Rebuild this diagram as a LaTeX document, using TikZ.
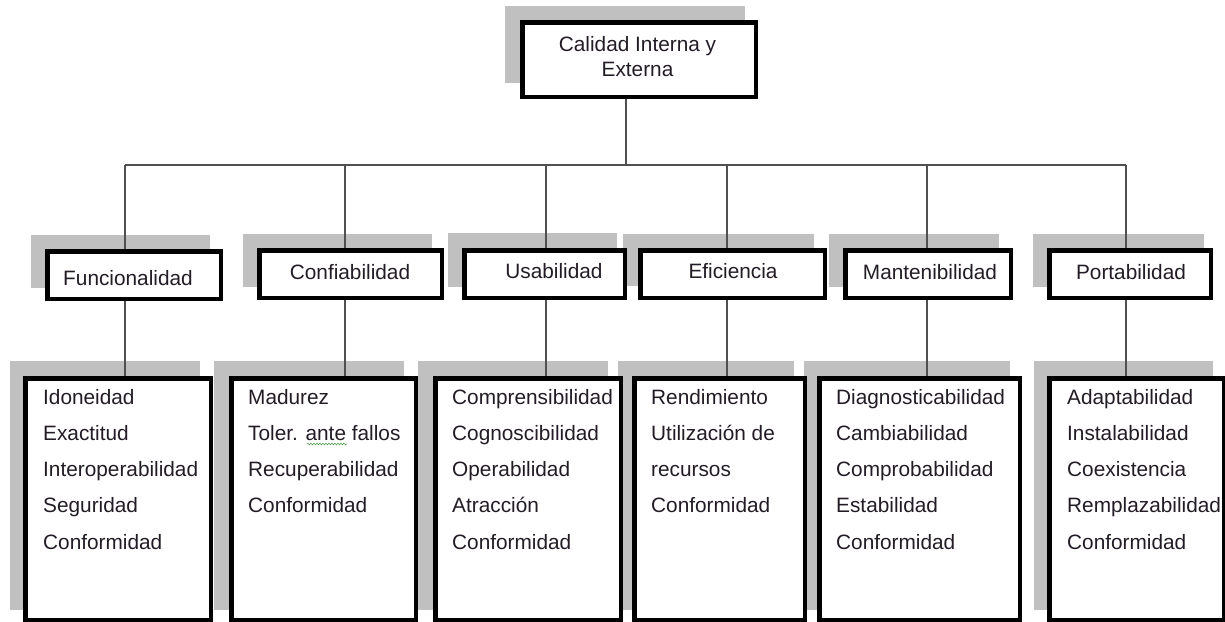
\documentclass[tikz,border=0pt]{standalone}
\usepackage{fontspec}
\setmainfont{Liberation Sans}
\usetikzlibrary{decorations.pathmorphing}
\definecolor{shadowgray}{RGB}{192,192,192}
\definecolor{linegray}{RGB}{80,80,80}
\definecolor{textcol}{RGB}{35,28,38}
\definecolor{spellgreen}{RGB}{90,160,90}
\begin{document}
\begin{tikzpicture}[x=1pt,y=-1pt,
  shadowfill/.style={fill=shadowgray, draw=none},
  boxstyle/.style={draw=black, fill=white, line width=4.5pt, inner sep=0pt, rectangle},
  midbox/.style={boxstyle, minimum height=47.5pt},
  lowbox/.style={boxstyle, minimum height=241.5pt},
  conn/.style={draw=linegray, line width=1.6pt},
  labeltext/.style={anchor=base, inner sep=0pt, font=\fontsize{20.8}{25}\selectfont, text=textcol},
  itemtext/.style={anchor=base west, inner sep=0pt, font=\fontsize{20.8}{25}\selectfont, text=textcol}]
\useasboundingbox (0,0) rectangle (1225,621);
\fill[white] (0,0) rectangle (1225,621);

% shadows
\fill[shadowfill] (505,6) rectangle (745,83);
\fill[shadowfill] (31,235) rectangle (210,288);
\fill[shadowfill] (243,234) rectangle (432,287);
\fill[shadowfill] (448,233) rectangle (617,287);
\fill[shadowfill] (623,234) rectangle (814,286);
\fill[shadowfill] (829,234) rectangle (999,287);
\fill[shadowfill] (1033,234) rectangle (1204,287);
\fill[shadowfill] (10,361) rectangle (200,610);
\fill[shadowfill] (214,361) rectangle (404,610);
\fill[shadowfill] (418,361) rectangle (608,610);
\fill[shadowfill] (618,361) rectangle (794,610);
\fill[shadowfill] (804,361) rectangle (1010,610);
\fill[shadowfill] (1034,361) rectangle (1213,610);

% boxes
\node[boxstyle, minimum width=233.5pt, minimum height=74.5pt] (top) at (639,59.5) {};
\node[midbox, minimum width=173.5pt] (fun) at (134,275) {};
\node[midbox, minimum width=182.5pt] (con) at (350.5,274) {};
\node[midbox, minimum width=160.5pt] (usa) at (544.5,274) {};
\node[midbox, minimum width=184.5pt] (efi) at (732.5,274) {};
\node[midbox, minimum width=165.5pt] (man) at (928,274) {};
\node[midbox, minimum width=161.5pt] (por) at (1130,274) {};
\node[lowbox, minimum width=185.5pt] (b1) at (118,499) {};
\node[lowbox, minimum width=184.5pt] (b2) at (323.5,499) {};
\node[lowbox, minimum width=185.5pt] (b3) at (528,499) {};
\node[lowbox, minimum width=170.5pt] (b4) at (719.5,499) {};
\node[lowbox, minimum width=200.5pt] (b5) at (919.5,499) {};
\node[lowbox, minimum width=174.5pt] (b6) at (1136.5,499) {};

% connectors
\coordinate (bus) at (626,165);
\coordinate (busL) at (125,165);
\coordinate (busR) at (1126,165);
\draw[conn] (top.south -| bus) -- (bus);
\draw[conn] (busL) -- (busR);
\foreach \n/\b/\x in {fun/b1/125, con/b2/345, usa/b3/546, efi/b4/727, man/b5/927, por/b6/1126} {
  \coordinate (j\n) at (\x,165);
  \draw[conn] (j\n) -- (j\n |- \n.north);
  \draw[conn] (j\n |- \n.south) -- (j\n |- \b.north);
}

% texts
\node[labeltext] (top-t1) at (637.5,51) {Calidad Interna y};
\node[labeltext] (top-t2) at (637.5,76) {Externa};
\node[labeltext] (fun-t) at (128,285) {Funcionalidad};
\node[labeltext] (con-t) at (350,279) {Confiabilidad};
\node[labeltext] (usa-t) at (554,278) {Usabilidad};
\node[labeltext] (efi-t) at (733,278) {Eficiencia};
\node[labeltext] (man-t) at (930,279) {Mantenibilidad};
\node[labeltext] (por-t) at (1131,279) {Portabilidad};

\foreach \t [count=\i] in {Idoneidad, Exactitud, Interoperabilidad, Seguridad, Conformidad}
  \node[itemtext] (b1-\i) at (43, 404+36.3*\i-36.3) {\t};
\foreach \t [count=\i] in {Madurez, Toler. ante fallos, Recuperabilidad, Conformidad}
  \node[itemtext] (b2-\i) at (248, 404+36.3*\i-36.3) {\t};
\foreach \t [count=\i] in {Comprensibilidad, Cognoscibilidad, Operabilidad, Atracción, Conformidad}
  \node[itemtext] (b3-\i) at (452, 404+36.3*\i-36.3) {\t};
\foreach \t [count=\i] in {Rendimiento, Utilización de, recursos, Conformidad}
  \node[itemtext] (b4-\i) at (651, 404+36.3*\i-36.3) {\t};
\foreach \t [count=\i] in {Diagnosticabilidad, Cambiabilidad, Comprobabilidad, Estabilidad, Conformidad}
  \node[itemtext] (b5-\i) at (836, 404+36.3*\i-36.3) {\t};
\foreach \t [count=\i] in {Adaptabilidad, Instalabilidad, Coexistencia, Remplazabilidad, Conformidad}
  \node[itemtext] (b6-\i) at (1067, 404+36.3*\i-36.3) {\t};

% spell-check squiggle under "ante"
\draw[spellgreen, line width=0.6pt, decorate, decoration={snake, amplitude=0.9pt, segment length=3pt}] (307,444) -- (347,444);
\end{tikzpicture}
\end{document}
